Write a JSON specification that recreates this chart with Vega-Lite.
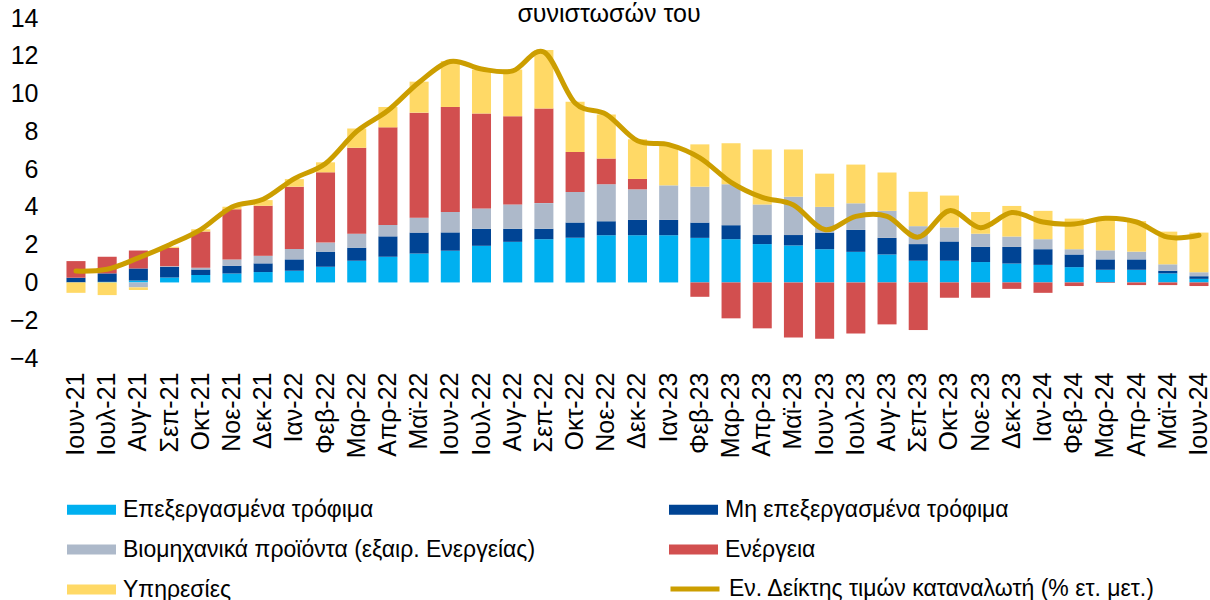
{
  "$schema": "https://vega.github.io/schema/vega-lite/v6.json",
  "width": 1150,
  "height": 340,
  "padding": {"left": 9, "top": 2, "right": 0, "bottom": 0},
  "background": "white",
  "config": {"view": {"stroke": null}, "font": "Liberation Sans", "axisY": {"labelOverlap": false, "grid": false, "domain": false, "ticks": false, "labelFontSize": 25, "labelPadding": 22, "labelColor": "black", "title": null}},
  "title": {"text": "συνιστωσών του", "fontSize": 25, "fontWeight": "normal", "color": "black", "anchor": "middle", "baseline": "bottom", "offset": -46, "dx": -26, "font": "Liberation Sans"},
  "data": {"values": [
    {"m": "Ιουν-21", "a_proc": 0, "b_unproc": 0.25, "c_ind": 0, "d_energy": 0.88, "e_serv": -0.55, "hicp": 0.6},
    {"m": "Ιουλ-21", "a_proc": 0.03, "b_unproc": 0.45, "c_ind": 0, "d_energy": 0.88, "e_serv": -0.67, "hicp": 0.7},
    {"m": "Αυγ-21", "a_proc": 0.1, "b_unproc": 0.64, "c_ind": -0.26, "d_energy": 0.95, "e_serv": -0.14, "hicp": 1.3},
    {"m": "Σεπ-21", "a_proc": 0.26, "b_unproc": 0.56, "c_ind": 0.04, "d_energy": 0.97, "e_serv": 0.06, "hicp": 2.0},
    {"m": "Οκτ-21", "a_proc": 0.4, "b_unproc": 0.28, "c_ind": 0.1, "d_energy": 1.92, "e_serv": 0.12, "hicp": 2.8},
    {"m": "Νοε-21", "a_proc": 0.48, "b_unproc": 0.4, "c_ind": 0.34, "d_energy": 2.65, "e_serv": 0.14, "hicp": 4.0},
    {"m": "Δεκ-21", "a_proc": 0.55, "b_unproc": 0.46, "c_ind": 0.4, "d_energy": 2.65, "e_serv": 0.3, "hicp": 4.4},
    {"m": "Ιαν-22", "a_proc": 0.62, "b_unproc": 0.6, "c_ind": 0.55, "d_energy": 3.3, "e_serv": 0.4, "hicp": 5.5},
    {"m": "Φεβ-22", "a_proc": 0.83, "b_unproc": 0.8, "c_ind": 0.48, "d_energy": 3.72, "e_serv": 0.53, "hicp": 6.3},
    {"m": "Μαρ-22", "a_proc": 1.15, "b_unproc": 0.69, "c_ind": 0.74, "d_energy": 4.55, "e_serv": 1.02, "hicp": 8.0},
    {"m": "Απρ-22", "a_proc": 1.36, "b_unproc": 1.08, "c_ind": 0.6, "d_energy": 5.17, "e_serv": 1.08, "hicp": 9.1},
    {"m": "Μαϊ-22", "a_proc": 1.53, "b_unproc": 1.11, "c_ind": 0.79, "d_energy": 5.56, "e_serv": 1.64, "hicp": 10.6},
    {"m": "Ιουν-22", "a_proc": 1.68, "b_unproc": 0.97, "c_ind": 1.08, "d_energy": 5.56, "e_serv": 2.43, "hicp": 11.7},
    {"m": "Ιουλ-22", "a_proc": 1.94, "b_unproc": 0.9, "c_ind": 1.08, "d_energy": 5.03, "e_serv": 2.33, "hicp": 11.3},
    {"m": "Αυγ-22", "a_proc": 2.15, "b_unproc": 0.69, "c_ind": 1.29, "d_energy": 4.67, "e_serv": 2.47, "hicp": 11.2},
    {"m": "Σεπ-22", "a_proc": 2.29, "b_unproc": 0.55, "c_ind": 1.36, "d_energy": 5.01, "e_serv": 3.09, "hicp": 12.2},
    {"m": "Οκτ-22", "a_proc": 2.36, "b_unproc": 0.81, "c_ind": 1.62, "d_energy": 2.12, "e_serv": 2.65, "hicp": 9.5},
    {"m": "Νοε-22", "a_proc": 2.5, "b_unproc": 0.74, "c_ind": 1.96, "d_energy": 1.36, "e_serv": 2.33, "hicp": 8.9},
    {"m": "Δεκ-22", "a_proc": 2.5, "b_unproc": 0.81, "c_ind": 1.62, "d_energy": 0.55, "e_serv": 2.1, "hicp": 7.5},
    {"m": "Ιαν-23", "a_proc": 2.5, "b_unproc": 0.81, "c_ind": 1.83, "d_energy": 0, "e_serv": 2.08, "hicp": 7.3},
    {"m": "Φεβ-23", "a_proc": 2.36, "b_unproc": 0.81, "c_ind": 1.9, "d_energy": -0.76, "e_serv": 2.24, "hicp": 6.6},
    {"m": "Μαρ-23", "a_proc": 2.29, "b_unproc": 0.74, "c_ind": 2.17, "d_energy": -1.9, "e_serv": 2.17, "hicp": 5.3},
    {"m": "Απρ-23", "a_proc": 2.03, "b_unproc": 0.48, "c_ind": 1.62, "d_energy": -2.43, "e_serv": 2.91, "hicp": 4.5},
    {"m": "Μαϊ-23", "a_proc": 1.96, "b_unproc": 0.55, "c_ind": 2.03, "d_energy": -2.91, "e_serv": 2.5, "hicp": 4.1},
    {"m": "Ιουν-23", "a_proc": 1.76, "b_unproc": 0.88, "c_ind": 1.36, "d_energy": -2.98, "e_serv": 1.76, "hicp": 2.8},
    {"m": "Ιουλ-23", "a_proc": 1.62, "b_unproc": 1.16, "c_ind": 1.41, "d_energy": -2.7, "e_serv": 2.05, "hicp": 3.5},
    {"m": "Αυγ-23", "a_proc": 1.48, "b_unproc": 0.88, "c_ind": 1.43, "d_energy": -2.22, "e_serv": 2.03, "hicp": 3.5},
    {"m": "Σεπ-23", "a_proc": 1.15, "b_unproc": 0.88, "c_ind": 0.95, "d_energy": -2.52, "e_serv": 1.82, "hicp": 2.4},
    {"m": "Οκτ-23", "a_proc": 1.15, "b_unproc": 1.02, "c_ind": 0.74, "d_energy": -0.81, "e_serv": 1.69, "hicp": 3.8},
    {"m": "Νοε-23", "a_proc": 1.08, "b_unproc": 0.81, "c_ind": 0.69, "d_energy": -0.81, "e_serv": 1.15, "hicp": 2.9},
    {"m": "Δεκ-23", "a_proc": 1.0, "b_unproc": 0.88, "c_ind": 0.55, "d_energy": -0.34, "e_serv": 1.62, "hicp": 3.7},
    {"m": "Ιαν-24", "a_proc": 0.93, "b_unproc": 0.83, "c_ind": 0.53, "d_energy": -0.55, "e_serv": 1.5, "hicp": 3.2},
    {"m": "Φεβ-24", "a_proc": 0.81, "b_unproc": 0.67, "c_ind": 0.28, "d_energy": -0.19, "e_serv": 1.62, "hicp": 3.1},
    {"m": "Μαρ-24", "a_proc": 0.67, "b_unproc": 0.55, "c_ind": 0.48, "d_energy": -0.03, "e_serv": 1.69, "hicp": 3.4},
    {"m": "Απρ-24", "a_proc": 0.67, "b_unproc": 0.55, "c_ind": 0.41, "d_energy": -0.14, "e_serv": 1.62, "hicp": 3.2},
    {"m": "Μαϊ-24", "a_proc": 0.48, "b_unproc": 0.14, "c_ind": 0.34, "d_energy": -0.14, "e_serv": 1.73, "hicp": 2.4},
    {"m": "Ιουν-24", "a_proc": 0.19, "b_unproc": 0.14, "c_ind": 0.21, "d_energy": -0.19, "e_serv": 2.1, "hicp": 2.5}
  ]},
  "encoding": {
    "x": {"field": "m", "type": "nominal", "sort": null,
      "scale": {"paddingInner": 0.39, "paddingOuter": 0.128, "align": 0.81},
      "axis": {"title": null, "domain": false, "ticks": false, "labelAngle": -90, "labelFontSize": 25, "labelPadding": 14, "labelColor": "black", "labelOverlap": false, "labelBound": false, "labelFont": "Liberation Sans"}}
  },
  "layer": [
    {
      "transform": [{"fold": ["a_proc", "b_unproc", "c_ind", "d_energy", "e_serv"], "as": ["k", "v"]}],
      "mark": {"type": "bar"},
      "encoding": {
        "y": {"field": "v", "type": "quantitative", "stack": "zero",
          "scale": {"domain": [-4, 14], "nice": false, "zero": false},
          "axis": {"values": [-4, -2, 0, 2, 4, 6, 8, 10, 12, 14], "labelOverlap": false}},
        "fill": {"field": "k", "type": "nominal",
          "scale": {"domain": ["a_proc", "b_unproc", "c_ind", "d_energy", "e_serv"], "range": ["#00B0F0", "#004494", "#ADB9CA", "#D24F4F", "#FFD966"]},
          "legend": {"title": null, "orient": "none", "direction": "horizontal", "legendX": 7, "legendY": 467, "columns": 2, "columnPadding": 133, "rowPadding": 3, "padding": 0,
            "symbolType": "M-1,-0.2H1V0.2H-1Z", "symbolSize": 2401, "symbolStrokeWidth": 0, "labelFontSize": 23, "labelOffset": 7, "labelColor": "black", "labelFont": "Liberation Sans", "labelLimit": 600,
            "labelExpr": "datum.label == 'a_proc' ? 'Επεξεργασμένα τρόφιμα' : datum.label == 'b_unproc' ? 'Μη επεξεργασμένα τρόφιμα' : datum.label == 'c_ind' ? 'Βιομηχανικά προϊόντα (εξαιρ. Ενεργείας)' : datum.label == 'd_energy' ? 'Ενέργεια' : 'Υπηρεσίες'"}},
        "order": {"field": "k", "sort": "ascending"}
      }
    },
    {"mark": {"type": "rule", "color": "black", "strokeWidth": 2}, "encoding": {"y": {"datum": 0, "type": "quantitative", "axis": {"values": [-4, -2, 0, 2, 4, 6, 8, 10, 12, 14], "labelOverlap": false}}}},
    {
      "mark": {"type": "line", "interpolate": "cardinal", "strokeWidth": 5, "strokeCap": "round"},
      "encoding": {
        "y": {"field": "hicp", "type": "quantitative", "axis": {"values": [-4, -2, 0, 2, 4, 6, 8, 10, 12, 14], "labelOverlap": false}},
        "stroke": {"datum": "Εν. Δείκτης τιμών καταναλωτή (% ετ. μετ.)", "scale": {"range": ["#CC9E00"]},
          "legend": {"title": null, "orient": "none", "legendX": 608, "legendY": 544, "padding": 0, "symbolType": "stroke", "symbolSize": 2401, "symbolStrokeWidth": 5, "labelFontSize": 23, "labelOffset": 7, "labelColor": "black", "labelFont": "Liberation Sans", "labelLimit": 600}}
      }
    }
  ]
}
